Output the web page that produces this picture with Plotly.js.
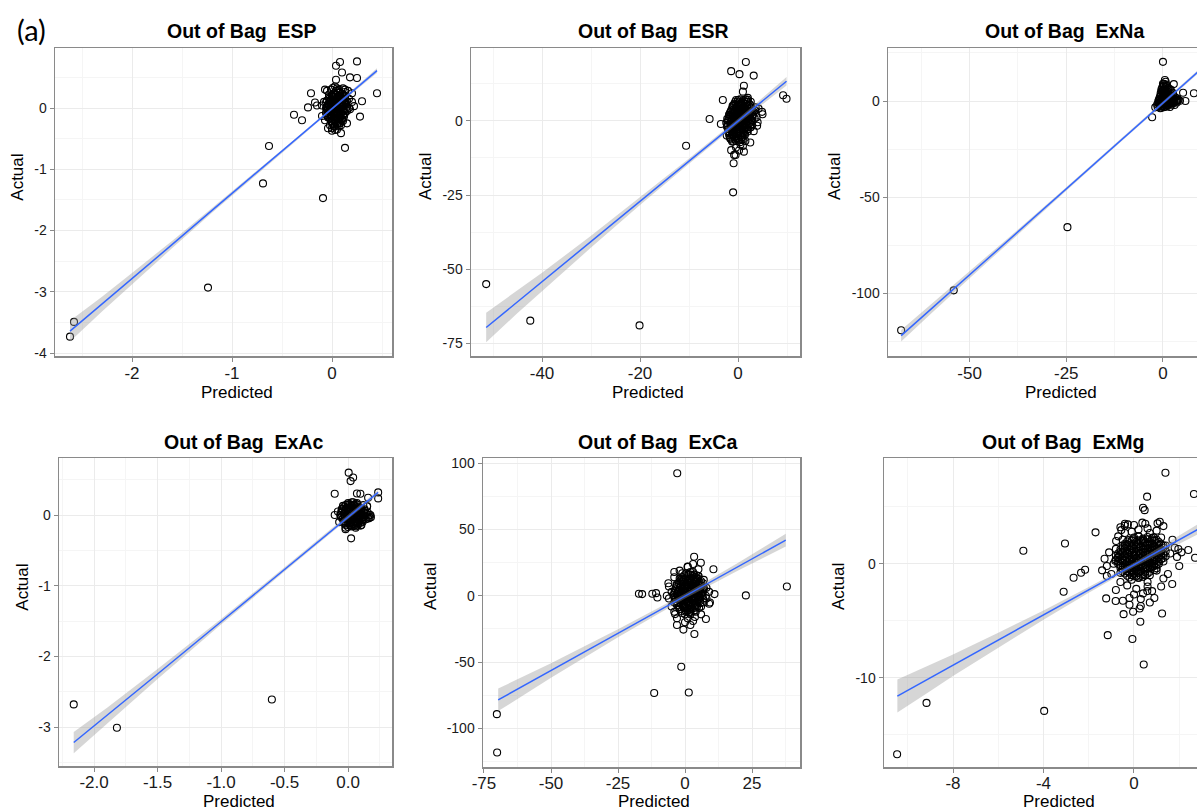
<!DOCTYPE html>
<html><head><meta charset="utf-8">
<script src="https://cdn.plot.ly/plotly-3.0.1.min.js"></script>
<style>html,body{margin:0;padding:0;background:#fff}#chart{width:1197px;height:810px}</style>
</head><body><div id="chart"></div>
<script>
// ---------------- DATA ----------------
const panelNames = ['ESP','ESR','ExNa','ExAc','ExCa','ExMg'];
const titlePrefix = 'Out of Bag';
const xLabel = 'Predicted';
const yLabel = 'Actual';
const figLabel = '(a)';

// ESP (outliers + scattered cluster points)
const espX = [-2.62,-2.58,-1.24,-0.69,-0.63,-0.09,0.13,-0.38,-0.30,-0.24,
 -0.21,-0.17,-0.10,0.45,0.30,0.28,0.25,0.08,0.04,0.10,
 0.18,0.25,0.04,-0.07,0.13,0.20,0.15,0.09,0.08,-0.04,
 0.00,0.03,0.22,0.17,-0.15,
 0.00,0.02,0.05,-0.03,0.01,0.04,0.06,-0.02,0.08,0.03,
 -0.05,0.10,0.00,0.02,0.07,-0.04,0.09,0.12,-0.01,0.04,
 0.06,-0.06,0.11,0.01,0.03,-0.02,0.05,0.00,0.08,0.14,
 -0.08,0.02,0.05,-0.03,0.10,0.15,0.07,-0.07,0.13,0.01,
 0.04,-0.01,0.06,0.09,0.02,-0.04,0.03,0.12,-0.02,0.05,
 0.00,0.17,0.18,0.16,-0.10,0.11,0.08,-0.05,0.03,0.20];
const espY = [-3.73,-3.49,-2.93,-1.23,-0.62,-1.47,-0.65,-0.11,-0.20,0.01,
 0.24,0.09,-0.13,0.24,0.11,-0.14,0.76,0.75,0.69,0.58,
 0.50,0.49,0.46,0.30,0.30,0.24,-0.25,-0.41,-0.24,-0.33,
 -0.37,-0.36,0.03,0.00,0.04,
 0.05,0.10,0.02,-0.05,-0.10,0.15,-0.02,0.12,0.08,-0.18,
 0.02,0.05,-0.22,0.22,0.18,-0.15,-0.08,0.12,0.30,0.28,
 -0.25,-0.08,0.20,0.00,0.06,-0.02,0.10,0.18,-0.15,0.05,
 0.10,-0.30,0.32,0.22,-0.20,-0.05,0.30,-0.20,0.26,0.33,
 -0.08,0.08,0.14,0.02,-0.05,0.05,0.12,-0.12,-0.28,-0.35,
 -0.33,0.15,-0.02,0.28,0.04,0.32,0.25,0.28,0.35,0.10];
// ESP dense core (overlapping points)
const espCoreX = [0.02,0.06,0.10,
 -0.03,0.01,0.05,0.09,0.13,
 -0.05,-0.01,0.03,0.07,0.11,0.15,
 -0.04,0.00,0.04,0.08,0.12,
 -0.06,-0.02,0.02,0.06,0.10,0.14,
 -0.04,0.00,0.04,0.08,0.12,
 -0.05,-0.01,0.03,0.07,0.11,
 -0.02,0.02,0.06,0.10,
 0.00,0.04,0.08,
 0.03,0.07,
 0.00,0.04,0.08,0.12,
 -0.03,0.01,0.05,0.09,0.13,
 -0.06,-0.02,0.02,0.06,0.10,0.14,
 -0.05,-0.01,0.03,0.07,0.11,0.15,
 -0.05,-0.01,0.03,0.07,0.11,
 -0.03,0.01,0.05,0.09,0.13,
 -0.04,0.00,0.04,0.08,0.12,
 -0.01,0.03,0.07,0.11,
 0.01,0.05,0.09];
const espCoreY = [0.24,0.25,0.23,
 0.18,0.19,0.17,0.18,0.19,
 0.12,0.13,0.11,0.12,0.13,0.11,
 0.06,0.07,0.05,0.06,0.07,
 0.00,0.01,-0.01,0.00,0.01,-0.01,
 -0.06,-0.05,-0.07,-0.06,-0.05,
 -0.12,-0.11,-0.13,-0.12,-0.11,
 -0.18,-0.17,-0.19,-0.18,
 -0.24,-0.23,-0.25,
 -0.30,-0.29,
 0.21,0.22,0.20,0.21,
 0.15,0.16,0.14,0.15,0.16,
 0.09,0.10,0.08,0.09,0.10,0.08,
 0.03,0.04,0.02,0.03,0.04,0.02,
 -0.03,-0.02,-0.04,-0.03,-0.02,
 -0.09,-0.08,-0.10,-0.09,-0.08,
 -0.15,-0.14,-0.16,-0.15,-0.14,
 -0.21,-0.20,-0.22,-0.21,
 -0.27,-0.26,-0.28];
const espFitX  = [-2.62,-2.3,-2.0,-1.6,-1.2,-0.8,-0.4,0.0,0.45];
const espFitY  = [-3.64,-3.20,-2.78,-2.23,-1.67,-1.12,-0.57,-0.01,0.61];
const espFitSE = [0.17,0.12,0.09,0.06,0.04,0.03,0.025,0.02,0.04];

// ESR
const esrX = [-51.4,-42.4,-20.1,-10.6,-5.8,-3.5,-3.1,-1.0,-0.9,-0.5,
 -1.4,0.3,1.6,3.2,1.2,1.0,2.0,9.2,9.9,2.5,
 1.2,3.9,4.9,5.0,4.2,-1.4,
 0.0,0.5,-0.5,1.0,-1.0,0.3,1.5,-1.5,0.8,2.0,
 -0.8,0.2,1.2,-1.2,2.5,-2.0,0.6,-0.3,1.8,-1.8,
 3.0,0.9,-0.6,0.4,1.4,-1.4,2.2,0.1,-0.2,1.1,
 -1.0,0.7,2.8,-2.2,3.5,0.0,-0.5,1.6,-1.6,0.5,
 2.4,-0.9,1.3,-0.1,0.8,1.9,-1.3,2.6,3.8,4.0,
 -0.4,0.2,-1.8,1.0,3.2,0.6,-0.7,1.7,-0.3,0.4,
 -2.3,2.0,-1.1,0.9,3.6,-0.8,1.5,0.3,-1.5,2.9];
const esrY = [-55.0,-67.3,-68.9,-8.4,0.6,-1.1,7.0,-24.1,-14.3,-11.5,
 16.7,15.7,19.8,15.2,11.8,9.8,7.7,8.6,7.4,-7.3,
 -10.4,-1.7,3.0,2.2,4.1,-9.9,
 0.0,1.5,-1.0,2.0,-2.5,-3.0,3.5,-1.0,-1.5,1.0,
 2.5,4.5,-4.0,-4.5,3.0,0.5,6.0,-6.0,5.0,-3.5,
 2.0,0.5,1.0,-0.8,-2.5,1.8,-1.0,2.8,-2.0,3.2,
 -7.0,-6.5,0.0,-2.0,3.5,7.0,5.5,7.2,-6.0,-8.0,
 5.5,3.8,0.8,-4.2,4.0,-3.0,0.0,-2.2,1.2,-0.5,
 -9.0,-10.0,2.0,-8.5,-3.5,1.8,-0.3,1.5,0.8,3.3,
 -5.0,6.5,5.0,-5.5,4.5,-11.5,-6.8,5.2,3.0,-1.5];
const esrCoreX = [-0.4,0.4,1.2,2.0,
 -0.8,0.0,0.8,1.6,2.4,
 -1.2,-0.4,0.4,1.2,2.0,2.8,
 -1.6,-0.8,0.0,0.8,1.6,2.4,3.2,
 -1.8,-1.0,-0.2,0.6,1.4,2.2,3.0,
 -2.0,-1.2,-0.4,0.4,1.2,2.0,2.8,
 -2.2,-1.4,-0.6,0.2,1.0,1.8,2.6,
 -2.0,-1.2,-0.4,0.4,1.2,2.0,
 -1.8,-1.0,-0.2,0.6,1.4,
 -1.6,-0.8,0.0,0.8,
 -1.2,-0.4,0.4,
 -0.6,0.2,1.0,1.8,2.6,
 -1.0,-0.2,0.6,1.4,2.2,
 -1.4,-0.6,0.2,1.0,1.8,2.6,3.4,
 -1.8,-1.0,-0.2,0.6,1.4,2.2,3.0,
 -2.2,-1.4,-0.6,0.2,1.0,1.8,2.6,3.4,
 -2.4,-1.6,-0.8,0.0,0.8,1.6,2.4,
 -2.2,-1.4,-0.6,0.2,1.0,1.8,2.6,
 -2.0,-1.2,-0.4,0.4,1.2,2.0,
 -1.8,-1.0,-0.2,0.6,1.4,
 -1.4,-0.6,0.2,1.0];
const esrCoreY = [7.0,7.2,6.8,7.1,
 5.6,5.8,5.4,5.7,5.5,
 4.2,4.4,4.0,4.3,4.1,4.2,
 2.8,3.0,2.6,2.9,2.7,2.8,3.0,
 1.4,1.6,1.2,1.5,1.3,1.4,1.6,
 0.0,0.2,-0.2,0.1,-0.1,0.0,0.2,
 -1.4,-1.2,-1.6,-1.3,-1.5,-1.4,-1.2,
 -2.8,-2.6,-3.0,-2.7,-2.9,-2.8,
 -4.2,-4.0,-4.4,-4.1,-4.3,
 -5.6,-5.4,-5.8,-5.5,
 -7.0,-6.8,-7.2,
 6.3,6.4,6.2,6.3,6.4,
 4.9,5.0,4.8,4.9,5.0,
 3.5,3.6,3.4,3.5,3.6,3.4,3.5,
 2.1,2.2,2.0,2.1,2.2,2.0,2.1,
 0.7,0.8,0.6,0.7,0.8,0.6,0.7,0.8,
 -0.7,-0.6,-0.8,-0.7,-0.6,-0.8,-0.7,
 -2.1,-2.0,-2.2,-2.1,-2.0,-2.2,-2.1,
 -3.5,-3.4,-3.6,-3.5,-3.4,-3.6,
 -4.9,-4.8,-5.0,-4.9,-4.8,
 -6.3,-6.2,-6.4,-6.3];
const esrFitX  = [-51.4,-45,-40,-30,-20,-10,0,9.9];
const esrFitY  = [-69.6,-60.9,-54.2,-40.7,-27.1,-13.6,-0.1,13.3];
const esrFitSE = [5.0,3.8,3.0,2.0,1.3,0.9,0.8,1.4];

// ExNa
const exnaX = [-67.7,-54.1,-24.7,-2.8,-2.0,0.0,0.5,0.7,2.8,5.2,8.0,5.8,3.7,-0.7,0.0,
 0.0,0.5,1.0,-0.5,1.5,0.2,0.8,2.0,-0.3,0.3,
 1.2,2.5,-1.0,0.6,0.4,0.1,0.9,3.0,1.8,0.0,
 -0.8,2.2,1.4,0.7,-0.2,2.8,3.5,1.1,0.3,-0.6,
 1.6,0.5,2.4,4.0,0.2,-1.5,1.9,0.0,1.3,-0.4];
const exnaY = [-119.4,-98.6,-65.7,-8.5,-3.3,20.4,10.9,10.0,8.8,4.3,4.0,0.0,0.5,-3.8,5.7,
 0.0,1.0,0.5,-0.5,-0.5,2.0,3.0,0.0,1.5,-1.5,
 1.8,0.8,-1.0,4.5,6.0,7.5,5.5,-0.3,-1.2,-2.5,
 -2.0,1.5,3.5,-0.8,0.6,1.2,0.2,-2.0,3.8,0.8,
 0.3,-3.0,-0.8,0.5,9.0,-1.8,2.5,4.0,0.9,-3.5];
const exnaCoreX = [0.0,0.8,
 -0.2,0.6,1.4,
 -0.4,0.4,1.2,2.0,
 -0.6,0.2,1.0,1.8,2.6,
 -1.0,-0.2,0.6,1.4,2.2,3.0,3.8,
 -1.2,-0.4,0.4,1.2,2.0,2.8,3.6,
 -1.4,-0.6,0.2,1.0,1.8,
 0.2,1.0,
 -0.4,0.4,1.2,2.0,
 -0.6,0.2,1.0,1.8,2.6,
 -0.8,0.0,0.8,1.6,2.4,3.2,
 -1.2,-0.4,0.4,1.2,2.0,2.8,3.6,4.4,
 -1.0,-0.2,0.6,1.4,2.2,3.0];
const exnaCoreY = [9.0,8.6,
 7.0,7.2,6.8,
 5.0,5.2,4.8,5.1,
 3.0,3.2,2.8,3.1,2.9,
 1.0,1.2,0.8,1.1,0.9,1.0,1.2,
 -1.0,-0.8,-1.2,-0.9,-1.1,-1.0,-0.8,
 -3.0,-2.8,-3.2,-2.9,-3.1,
 8.0,7.8,
 6.0,6.1,5.9,6.0,
 4.0,4.1,3.9,4.0,4.1,
 2.0,2.1,1.9,2.0,2.1,1.9,
 0.0,0.1,-0.1,0.0,0.1,-0.1,0.0,0.1,
 -2.0,-1.9,-2.1,-2.0,-1.9,-2.1];
const exnaFitX  = [-67.7,-60,-50,-40,-25,-10,0,9];
const exnaFitY  = [-122.2,-108.4,-90.5,-72.6,-45.8,-18.9,-1.0,15.1];
const exnaFitSE = [3.0,2.4,1.8,1.3,0.9,0.7,0.6,0.9];

// ExAc
const exacX = [-2.16,-1.82,-0.60,0.005,0.02,0.04,-0.105,0.07,0.097,0.237,
 0.237,0.158,0.15,0.024,0.063,-0.02,-0.105,0.17,0.176,
 0.00,0.02,0.04,-0.02,0.06,0.01,0.08,-0.04,0.03,0.10,
 -0.05,0.05,0.12,0.00,0.07,-0.03,0.09,0.14,-0.06,0.02,
 0.11,0.04,-0.01,0.06,0.13,-0.07,0.01,0.03,0.08,0.16,
 -0.08,0.05,0.10,0.15,-0.02,0.07,0.12,-0.04,0.09,0.00,
 0.17,0.18];
const exacY = [-2.68,-3.01,-2.61,0.60,0.48,0.53,0.30,0.305,0.30,0.32,
 0.235,0.244,0.127,-0.33,-0.16,-0.20,0.0,-0.04,0.0,
 0.00,0.05,-0.03,0.02,0.08,-0.08,0.00,-0.05,0.12,0.05,
 0.08,-0.10,-0.02,0.15,-0.06,-0.12,0.10,0.03,0.00,-0.15,
 -0.08,0.18,0.10,0.02,0.08,-0.10,0.04,-0.05,-0.12,-0.05,
 0.05,0.14,-0.15,0.12,-0.18,0.17,0.14,0.13,-0.03,-0.06,
 0.00,-0.03];
const exacCoreX = [0.00,0.03,0.06,
 -0.03,0.00,0.03,0.06,0.09,
 -0.05,-0.02,0.01,0.04,0.07,0.10,0.13,
 -0.06,-0.03,0.00,0.03,0.06,0.09,0.12,0.15,
 -0.04,-0.01,0.02,0.05,0.08,0.11,0.14,
 -0.02,0.01,0.04,0.07,0.10,
 0.00,0.03,0.06,
 -0.015,0.015,0.045,0.075,
 -0.045,-0.015,0.015,0.045,0.075,0.105,
 -0.055,-0.025,0.005,0.035,0.065,0.095,0.125,0.155,
 -0.055,-0.025,0.005,0.035,0.065,0.095,0.125,0.155,
 -0.035,-0.005,0.025,0.055,0.085,0.115,
 -0.015,0.015,0.045,0.075,0.105];
const exacCoreY = [0.17,0.18,0.16,
 0.12,0.11,0.13,0.12,0.11,
 0.06,0.07,0.05,0.06,0.07,0.05,0.06,
 0.00,0.01,-0.01,0.00,0.01,-0.01,0.00,0.01,
 -0.06,-0.05,-0.07,-0.06,-0.05,-0.07,-0.06,
 -0.12,-0.11,-0.13,-0.12,-0.11,
 -0.17,-0.16,-0.18,
 0.145,0.15,0.14,0.145,
 0.09,0.095,0.085,0.09,0.095,0.085,
 0.03,0.035,0.025,0.03,0.035,0.025,0.03,0.035,
 -0.03,-0.025,-0.035,-0.03,-0.025,-0.035,-0.03,-0.025,
 -0.09,-0.085,-0.095,-0.09,-0.085,-0.095,
 -0.145,-0.14,-0.15,-0.145,-0.14];
const exacFitX  = [-2.16,-1.9,-1.5,-1.0,-0.5,0.0,0.237];
const exacFitY  = [-3.22,-2.84,-2.25,-1.51,-0.77,-0.03,0.32];
const exacFitSE = [0.15,0.11,0.07,0.04,0.03,0.025,0.035];

// ExCa
const excaX = [-70.2,-70.1,-2.9,38.0,22.7,-11.5,1.4,-1.4,-17.2,-16.0,
 -12.2,-10.8,-10.3,-6.8,-6.2,-4.0,3.4,5.9,10.6,11.0,
 9.3,7.8,3.5,-0.6,-3.7,3.7,1.0,
 0,2,-2,4,1,-3,3,5,-1,0,
 2,-4,6,1,-2,3,7,-5,4,0,
 1,-1,2,5,-3,3,6,-2,0,4,
 8,-6,2,1,-1,5,3,-4,7,-3,
 2,0,1,-1,3,4,6,-5,9,2,
 5,-2,1,3,7,-6,8,0,4,-1,
 6,3,-4,9,2,-3];
const excaY = [-89.3,-118.3,92.5,7.0,0.3,-73.3,-73.0,-53.5,1.5,1.3,
 1.5,2.0,-1.3,0.0,9.5,18.0,29.5,25.0,20.0,1.3,
 -5.0,-17.5,-28.8,-25.5,-13.8,-16.0,21.8,
 0,3,-2,5,-4,1,-1,8,6,-8,
 10,-5,2,12,-10,-6,5,3,14,4,
 -1,-3,-9,-3,9,7,11,13,-14,-12,
 6,-2,16,-17,17,15,18,-12,-5,-17,
 1,8,5,-7,2,-2,-8,-8,3,-13,
 20,19,22,-19,12,7,-2,-20,9,11,
 -14,24,14,-6,-22,-22];
const excaCoreX = [0.5,2.0,3.5,
 -1.0,0.5,2.0,3.5,5.0,
 -2.0,-0.5,1.0,2.5,4.0,5.5,
 -3.0,-1.5,0.0,1.5,3.0,4.5,6.0,
 -3.5,-2.0,-0.5,1.0,2.5,4.0,5.5,7.0,
 -4.0,-2.5,-1.0,0.5,2.0,3.5,5.0,6.5,
 -4.0,-2.5,-1.0,0.5,2.0,3.5,5.0,6.5,
 -3.5,-2.0,-0.5,1.0,2.5,4.0,5.5,
 -3.0,-1.5,0.0,1.5,3.0,4.5,
 -2.0,-0.5,1.0,2.5,4.0,
 -1.0,0.5,2.0,
 -0.25,1.25,2.75,4.25,
 -1.25,0.25,1.75,3.25,4.75,
 -2.25,-0.75,0.75,2.25,3.75,5.25,6.75,
 -3.25,-1.75,-0.25,1.25,2.75,4.25,5.75,
 -3.75,-2.25,-0.75,0.75,2.25,3.75,5.25,6.75,
 -4.25,-2.75,-1.25,0.25,1.75,3.25,4.75,6.25,7.75,
 -3.75,-2.25,-0.75,0.75,2.25,3.75,5.25,6.75,
 -3.25,-1.75,-0.25,1.25,2.75,4.25,5.75,
 -2.25,-0.75,0.75,2.25,3.75,5.25,
 -1.25,0.25,1.75,3.25];
const excaCoreY = [17,18,16,
 14,15,13,14,15,
 11,12,10,11,12,10,
 8,9,7,8,9,7,8,
 5,6,4,5,6,4,5,6,
 2,3,1,2,3,1,2,3,
 -1,0,-2,-1,0,-2,-1,0,
 -4,-3,-5,-4,-3,-5,-4,
 -7,-6,-8,-7,-6,-8,
 -10,-9,-11,-10,-9,
 -13,-12,-14,
 15.5,16,15,15.5,
 12.5,13,12,12.5,13,
 9.5,10,9,9.5,10,9,9.5,
 6.5,7,6,6.5,7,6,6.5,
 3.5,4,3,3.5,4,3,3.5,4,
 0.5,1,0,0.5,1,0,0.5,1,0,
 -2.5,-2,-3,-2.5,-2,-3,-2.5,-2,
 -5.5,-5,-6,-5.5,-5,-6,-5.5,
 -8.5,-8,-9,-8.5,-8,-9,
 -11.5,-11,-12,-11.5];
const excaFitX  = [-69.7,-60,-50,-25,0,20,37.6];
const excaFitY  = [-78.5,-67.6,-56.4,-28.3,-0.2,22.2,42.0];
const excaFitSE = [8.5,7.0,5.5,3.0,1.8,3.0,4.8];

// ExMg
const exmgX = [-10.47,-9.17,-3.97,-4.89,-3.05,-1.70,-3.11,-2.67,-2.34,-2.16,
 -1.41,-1.30,-1.20,-1.23,-1.16,-0.07,0.43,0.28,1.24,1.69,
 1.39,2.65,0.58,0.40,0.47,2.40,2.70,0.37,-0.41,-0.27,
 -0.56,-0.79,-0.83,1.04,1.14,0.87,1.96,-0.46,-0.04,-0.49,
 -0.81,0.59,0.25,
 0,0.3,-0.3,0.6,-0.5,0.2,0.9,-0.2,0.5,1.1,
 -0.6,0.1,0.7,-0.4,1.3,0.4,-0.1,0.8,-0.7,1.0,
 0.2,-0.3,0.6,1.4,-0.5,0.0,0.3,0.5,-0.2,0.9,
 1.2,-0.8,0.1,0.7,-0.1,1.6,0.4,-0.6,1.5,-0.9,
 0.2,0.6,1.0,-0.4,0.0,-0.2,0.3,0.8,1.8,1.9,
 2.0,-1.0,-0.8,0.5,0.1,-0.3,0.7,1.1,0.4,-0.1,
 0.9,0.2,-0.5,1.3,0.6,-0.7,1.7,-1.1,0.0,0.5,
 1.3,-0.4,-0.2,0.3,0.7,1.2,-1.2,2.1,-0.6,0.9];
const exmgY = [-16.7,-12.2,-12.9,1.14,1.78,2.75,-2.46,-1.23,-0.79,-0.53,
 -0.58,0.44,-1.08,-3.04,-6.26,-6.6,-8.83,-5.09,-4.36,-1.78,
 7.98,6.11,5.88,4.91,4.70,1.20,0.53,3.60,3.33,3.45,
 2.95,1.99,0.26,3.54,3.68,2.31,1.29,-4.42,-4.21,-3.25,
 -3.27,-2.40,-3.92,
 0,0.5,-0.4,0.8,0.3,-0.7,0.4,1.0,-0.3,1.2,
 -0.8,1.5,-1.0,1.6,0.2,2.0,-1.4,1.8,0.6,-0.6,
 2.4,-1.9,-1.6,1.6,2.1,0.7,-0.1,1.3,0.2,-0.2,
 2.3,1.3,-2.2,2.7,2.8,0.9,-2.6,-1.6,-0.9,0.0,
 3.0,3.1,2.9,2.7,-2.7,-3.0,-3.1,-2.4,1.4,0.6,
 -0.2,-0.9,-2.3,0.2,0.4,0.9,0.0,0.7,1.0,-0.6,
 1.4,-1.2,-0.2,-1.3,-2.0,2.4,2.1,1.0,3.4,3.5,
 3.3,3.5,-3.6,-3.7,-3.4,-2.0,-0.2,1.0,3.2,-3.0];
const exmgCoreX = [0.0,0.2,0.4,0.6,0.8,
 -0.3,-0.1,0.1,0.3,0.5,0.7,0.9,1.1,
 -0.5,-0.3,-0.1,0.1,0.3,0.5,0.7,0.9,1.1,1.3,
 -0.6,-0.4,-0.2,0.0,0.2,0.4,0.6,0.8,1.0,1.2,
 -0.7,-0.5,-0.3,-0.1,0.1,0.3,0.5,0.7,0.9,1.1,1.3,
 -0.7,-0.5,-0.3,-0.1,0.1,0.3,0.5,0.7,0.9,1.1,1.3,
 -0.7,-0.5,-0.3,-0.1,0.1,0.3,0.5,0.7,0.9,1.1,
 -0.6,-0.4,-0.2,0.0,0.2,0.4,0.6,0.8,1.0,
 -0.5,-0.3,-0.1,0.1,0.3,0.5,0.7,0.9,
 -0.4,-0.2,0.0,0.2,0.4,0.6,
 -0.2,0.0,0.2,0.4,
 -0.2,0.0,0.2,0.4,0.6,0.8,1.0,
 -0.4,-0.2,0.0,0.2,0.4,0.6,0.8,1.0,1.2,
 -0.5,-0.3,-0.1,0.1,0.3,0.5,0.7,0.9,1.1,1.3,
 -0.6,-0.4,-0.2,0.0,0.2,0.4,0.6,0.8,1.0,1.2,1.4,
 -0.8,-0.6,-0.4,-0.2,0.0,0.2,0.4,0.6,0.8,1.0,1.2,1.4,
 -0.8,-0.6,-0.4,-0.2,0.0,0.2,0.4,0.6,0.8,1.0,1.2,
 -0.7,-0.5,-0.3,-0.1,0.1,0.3,0.5,0.7,0.9,1.1,
 -0.6,-0.4,-0.2,0.0,0.2,0.4,0.6,0.8,1.0,
 -0.5,-0.3,-0.1,0.1,0.3,0.5,0.7,
 -0.3,-0.1,0.1,0.3,0.5];
const exmgCoreY = [2.3,2.4,2.2,2.35,2.25,
 1.95,2.05,1.9,2.0,1.85,1.95,2.05,1.9,
 1.6,1.7,1.55,1.65,1.5,1.6,1.7,1.55,1.65,1.6,
 1.25,1.35,1.2,1.3,1.15,1.25,1.35,1.2,1.3,1.25,
 0.9,1.0,0.85,0.95,0.8,0.9,1.0,0.85,0.95,0.9,0.85,
 0.55,0.65,0.5,0.6,0.45,0.55,0.65,0.5,0.6,0.55,0.5,
 0.2,0.3,0.15,0.25,0.1,0.2,0.3,0.15,0.25,0.2,
 -0.15,-0.05,-0.2,-0.1,-0.25,-0.15,-0.05,-0.2,-0.1,
 -0.5,-0.4,-0.55,-0.45,-0.6,-0.5,-0.4,-0.55,
 -0.85,-0.75,-0.9,-0.8,-0.95,-0.85,
 -1.2,-1.1,-1.25,-1.15,
 2.1,2.15,2.05,2.1,2.15,2.05,2.1,
 1.75,1.8,1.7,1.75,1.8,1.7,1.75,1.8,1.7,
 1.4,1.45,1.35,1.4,1.45,1.35,1.4,1.45,1.35,1.4,
 1.05,1.1,1.0,1.05,1.1,1.0,1.05,1.1,1.0,1.05,1.1,
 0.7,0.75,0.65,0.7,0.75,0.65,0.7,0.75,0.65,0.7,0.75,0.65,
 0.35,0.4,0.3,0.35,0.4,0.3,0.35,0.4,0.3,0.35,0.4,
 0.0,0.05,-0.05,0.0,0.05,-0.05,0.0,0.05,-0.05,0.0,
 -0.35,-0.3,-0.4,-0.35,-0.3,-0.4,-0.35,-0.3,-0.4,
 -0.7,-0.65,-0.75,-0.7,-0.65,-0.75,-0.7,
 -1.05,-1.0,-1.1,-1.05,-1.0];
const exmgFitX  = [-10.46,-9,-8,-6,-4,-2,0,2.9];
const exmgFitY  = [-11.6,-10.0,-8.9,-6.7,-4.5,-2.3,-0.1,3.1];
const exmgFitSE = [1.45,1.15,0.95,0.65,0.4,0.25,0.18,0.45];

// tick labels
const espXTicks = [-2,-1,0],        espXText = ['-2','-1','0'];
const espYTicks = [-4,-3,-2,-1,0],  espYText = ['-4','-3','-2','-1','0'];
const esrXTicks = [-40,-20,0],      esrXText = ['-40','-20','0'];
const esrYTicks = [-75,-50,-25,0],  esrYText = ['-75','-50','-25','0'];
const exnaXTicks = [-50,-25,0],     exnaXText = ['-50','-25','0'];
const exnaYTicks = [-100,-50,0],    exnaYText = ['-100','-50','0'];
const exacXTicks = [-2,-1.5,-1,-0.5,0], exacXText = ['-2.0','-1.5','-1.0','-0.5','0.0'];
const exacYTicks = [-3,-2,-1,0],    exacYText = ['-3','-2','-1','0'];
const excaXTicks = [-75,-50,-25,0,25], excaXText = ['-75','-50','-25','0','25'];
const excaYTicks = [-100,-50,0,50,100], excaYText = ['-100','-50','0','50','100'];
const exmgXTicks = [-8,-4,0],       exmgXText = ['-8','-4','0'];
const exmgYTicks = [-10,0],         exmgYText = ['-10','0'];

// ---------------- LAYOUT ----------------
const W = 1197, H = 810;
const px = v => v / W;
const py = v => 1 - v / H;
const FONT = 'Liberation Sans, Arial, sans-serif';

const panels = [
 {x:espX.concat(espCoreX), y:espY.concat(espCoreY), fx:espFitX, fy:espFitY, fs:espFitSE, xt:[espXTicks,espXText], yt:[espYTicks,espYText],
  box:[55,392,48,356], xr:[-2.77,0.60], yr:[-4.046,0.979], xm:0.5, ym:0.5, right:true,
  title:[241.7,31], xl:[236.7,392], yl:[16.7,177]},
 {x:esrX.concat(esrCoreX), y:esrY.concat(esrCoreY), fx:esrFitX, fy:esrFitY, fs:esrFitSE, xt:[esrXTicks,esrXText], yt:[esrYTicks,esrYText],
  box:[471,800,48,356], xr:[-54.5,12.65], yr:[-79.2,24.5], xm:10, ym:12.5, right:true,
  title:[653.3,31], xl:[648,392], yl:[425,177]},
 {x:exnaX.concat(exnaCoreX), y:exnaY.concat(exnaCoreY), fx:exnaFitX, fy:exnaFitY, fs:exnaFitSE, xt:[exnaXTicks,exnaXText], yt:[exnaYTicks,exnaYText],
  box:[888,1197,48,356], xr:[-71.1,8.8], yr:[-132.8,27.6], xm:12.5, ym:25, right:false,
  title:[1064,31], xl:[1060.5,392], yl:[834,177]},
 {x:exacX.concat(exacCoreX), y:exacY.concat(exacCoreY), fx:exacFitX, fy:exacFitY, fs:exacFitSE, xt:[exacXTicks,exacXText], yt:[exacYTicks,exacYText],
  box:[59,392,458,766], xr:[-2.276,0.346], yr:[-3.552,0.807], xm:0.25, ym:0.5, right:true,
  title:[243.3,442], xl:[239,801], yl:[21.7,587]},
 {x:excaX.concat(excaCoreX), y:excaY.concat(excaCoreY), fx:excaFitX, fy:excaFitY, fs:excaFitSE, xt:[excaXTicks,excaXText], yt:[excaYTicks,excaYText],
  box:[483,800,458,767], xr:[-75.37,42.9], yr:[-129.2,104], xm:12.5, ym:25, right:true,
  title:[657.5,442], xl:[654,801], yl:[430,587]},
 {x:exmgX.concat(exmgCoreX), y:exmgY.concat(exmgCoreY), fx:exmgFitX, fy:exmgFitY, fs:exmgFitSE, xt:[exmgXTicks,exmgXText], yt:[exmgYTicks,exmgYText],
  box:[884,1197,458,767], xr:[-11.05,2.785], yr:[-17.82,9.27], xm:2, ym:5, right:false,
  title:[1063,442], xl:[1059,801], yl:[838,587]}
];

const data = [];
const layout = {
  width: W, height: H, margin: {l:0, r:0, t:0, b:0},
  paper_bgcolor: '#fff', plot_bgcolor: '#fff', showlegend: false,
  font: {family: FONT, color: '#000'},
  annotations: []
};

function axisCommon(ticks, tickSize, minorD) {
  return {
    showline: true, linecolor: '#8a8a8a', linewidth: 1.5,
    ticks: 'outside', ticklen: 4, tickwidth: 1, tickcolor: '#8a8a8a',
    showgrid: true, gridcolor: '#ebebeb', gridwidth: 1,
    minor: {showgrid: true, gridcolor: '#f5f5f5', gridwidth: 1, tickmode: 'linear', tick0: 0, dtick: minorD, ticks: ''},
    zeroline: false, tickmode: 'array', tickvals: ticks[0], ticktext: ticks[1],
    tickfont: {family: FONT, size: tickSize, color: '#1a1a1a'}, fixedrange: true
  };
}

panels.forEach((p, i) => {
  const sfx = i === 0 ? '' : String(i + 1);
  const xa = 'x' + sfx, ya = 'y' + sfx;
  const xaxis = Object.assign(axisCommon(p.xt, 17, p.xm), {
    domain: [px(p.box[0]), px(p.box[1])], range: p.xr, anchor: ya, mirror: true,
    ticklabelstandoff: i < 3 ? -3 : -4
  });
  const yaxis = Object.assign(axisCommon(p.yt, 14, p.ym), {
    domain: [py(p.box[3]), py(p.box[2])], range: p.yr, anchor: xa, mirror: p.right
  });
  layout['xaxis' + sfx] = xaxis;
  layout['yaxis' + sfx] = yaxis;

  data.push({type: 'scatter', mode: 'markers', x: p.x, y: p.y, xaxis: xa, yaxis: ya,
    marker: {symbol: 'circle-open', size: 7, color: '#000', line: {width: 1.1, color: '#000'}},
    hoverinfo: 'skip'});
  const upper = p.fy.map((v, k) => v + p.fs[k]);
  const lower = p.fy.map((v, k) => v - p.fs[k]);
  data.push({type: 'scatter', mode: 'lines', xaxis: xa, yaxis: ya,
    x: p.fx.concat(p.fx.slice().reverse()), y: upper.concat(lower.slice().reverse()),
    fill: 'toself', fillcolor: 'rgba(153,153,153,0.4)', line: {width: 0}, hoverinfo: 'skip'});
  data.push({type: 'scatter', mode: 'lines', xaxis: xa, yaxis: ya, x: p.fx, y: p.fy,
    line: {color: '#3366FF', width: 1.5}, hoverinfo: 'skip'});

  layout.annotations.push({xref: 'paper', yref: 'paper', x: px(p.title[0]), y: py(p.title[1]),
    xanchor: 'center', yanchor: 'middle', showarrow: false,
    text: '<b>' + titlePrefix + '\u00a0\u00a0' + panelNames[i] + '</b>',
    font: {family: FONT, size: 19.5, color: '#000'}});
  layout.annotations.push({xref: 'paper', yref: 'paper', x: px(p.xl[0]), y: py(p.xl[1]),
    xanchor: 'center', yanchor: 'middle', showarrow: false, text: xLabel,
    font: {family: FONT, size: 17, color: '#000'}});
  layout.annotations.push({xref: 'paper', yref: 'paper', x: px(p.yl[0]), y: py(p.yl[1]),
    xanchor: 'center', yanchor: 'middle', showarrow: false, text: yLabel, textangle: -90,
    font: {family: FONT, size: 17, color: '#000'}});
});

layout.annotations.push({xref: 'paper', yref: 'paper', x: px(15), y: py(30),
  xanchor: 'left', yanchor: 'middle', showarrow: false, text: figLabel,
  font: {family: 'Lato, Noto Sans, sans-serif', size: 29, color: '#000'}});

Plotly.newPlot('chart', data, layout, {displayModeBar: false, staticPlot: true});
</script>
</body></html>
